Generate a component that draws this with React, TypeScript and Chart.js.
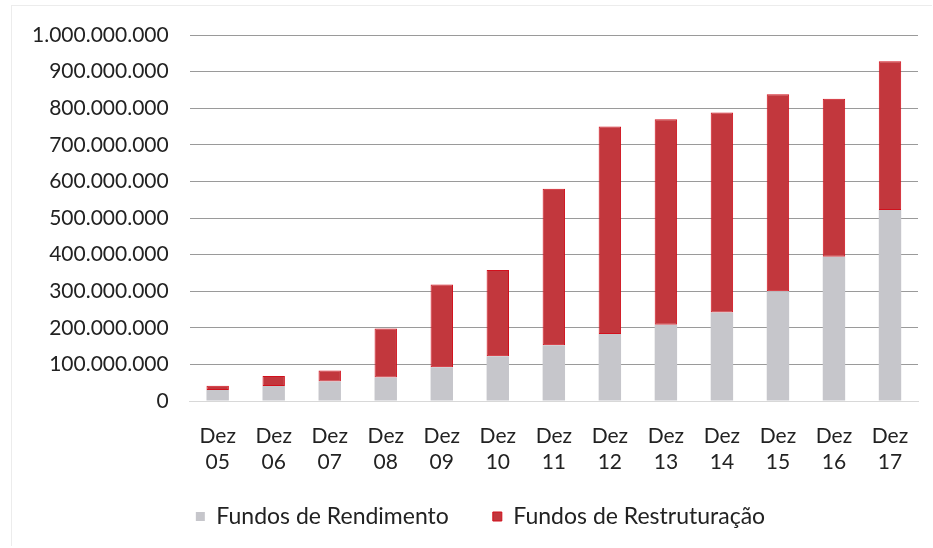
import React, { useEffect, useRef } from "react";
import { Chart, registerables } from "chart.js";

Chart.register(...registerables);

const categories: string[][] = [
  ["Dez", "05"], ["Dez", "06"], ["Dez", "07"], ["Dez", "08"], ["Dez", "09"],
  ["Dez", "10"], ["Dez", "11"], ["Dez", "12"], ["Dez", "13"], ["Dez", "14"],
  ["Dez", "15"], ["Dez", "16"], ["Dez", "17"],
];

const fundosRendimento: number[] = [
  30e6, 41e6, 53e6, 64e6, 92e6, 122e6, 152e6, 183e6, 208e6, 242e6, 300e6, 394e6, 522e6,
];

const fundosRestruturacao: number[] = [
  12e6, 27e6, 30e6, 134e6, 226e6, 236e6, 428e6, 567e6, 562e6, 546e6, 538e6, 432e6, 406e6,
];

const seriesLabels: string[] = ["Fundos de Rendimento", "Fundos de Restruturação"];

const yMax = 1000000000;
const yStep = 100000000;

function formatDots(v: number): string {
  const s = Math.round(v).toString();
  return s.replace(/\B(?=(\d{3})+(?!\d))/g, ".");
}

const legendShift = {
  id: "legendShift",
  afterLayout(chart: any) {
    const lg = chart.legend;
    if (!lg) return;
    lg.left += 16;
    lg.right += 16;
  },
};

export default function App() {
  const ref = useRef<HTMLCanvasElement | null>(null);

  useEffect(() => {
    if (!ref.current) return;
    const font = "Lato";
    const chart = new Chart(ref.current, {
      type: "bar",
      data: {
        labels: categories,
        datasets: [
          {
            label: seriesLabels[0],
            data: fundosRendimento,
            backgroundColor: "#c6c6cb",
            borderWidth: 0,
            stack: "s",
          },
          {
            label: seriesLabels[1],
            data: fundosRestruturacao,
            backgroundColor: "#c2373d",
            borderColor: "#d2101c",
            borderWidth: 1,
            borderSkipped: false,
            stack: "s",
          },
        ],
      },
      plugins: [legendShift],
      options: {
        animation: false,
        responsive: false,
        maintainAspectRatio: false,
        layout: { padding: { left: 11, right: 15, top: 35, bottom: 10 } },
        datasets: {
          bar: { categoryPercentage: 1, barPercentage: 0.4 },
        },
        scales: {
          x: {
            stacked: true,
            grid: { display: false, drawTicks: false },
            border: { display: true, color: "#d8d8d8", width: 1 },
            afterFit: (scale: any) => {
              scale.height = 60;
              scale._computeLabelArea = () => undefined;
            },
            ticks: {
              color: "#222",
              font: { family: font, size: 21, lineHeight: 1.24 },
              padding: 22,
              maxRotation: 0,
              autoSkip: false,
            },
          },
          y: {
            stacked: true,
            min: 0,
            max: yMax,
            grid: {
              color: (ctx: any) => (ctx.tick && ctx.tick.value === 0 ? "#dadada" : "#9a9a9a"),
              lineWidth: 1,
              drawTicks: false,
            },
            border: { display: false },
            ticks: {
              stepSize: yStep,
              color: "#222",
              font: { family: font, size: 21 },
              padding: 21,
              callback: (v: any) => formatDots(Number(v)),
            },
          },
        },
        plugins: {
          tooltip: { enabled: false },
          legend: {
            position: "bottom",
            labels: {
              color: "#222",
              font: { family: font, size: 23 },
              boxWidth: 9,
              boxHeight: 9,
              padding: 44,
              useBorderRadius: false,
            },
          },
        },
      },
    });
    return () => chart.destroy();
  }, []);

  return (
    <div style={{ position: "fixed", left: 0, top: 0, width: 933, height: 548, background: "#fff" }}>
      <div
        style={{
          position: "absolute",
          left: 11,
          top: 5,
          width: 920,
          height: 540,
          borderTop: "1px solid #ececec",
          borderLeft: "1px solid #ececec",
        }}
      />
      <canvas ref={ref} width={933} height={548} style={{ position: "absolute", left: 0, top: 0 }} />
    </div>
  );
}
